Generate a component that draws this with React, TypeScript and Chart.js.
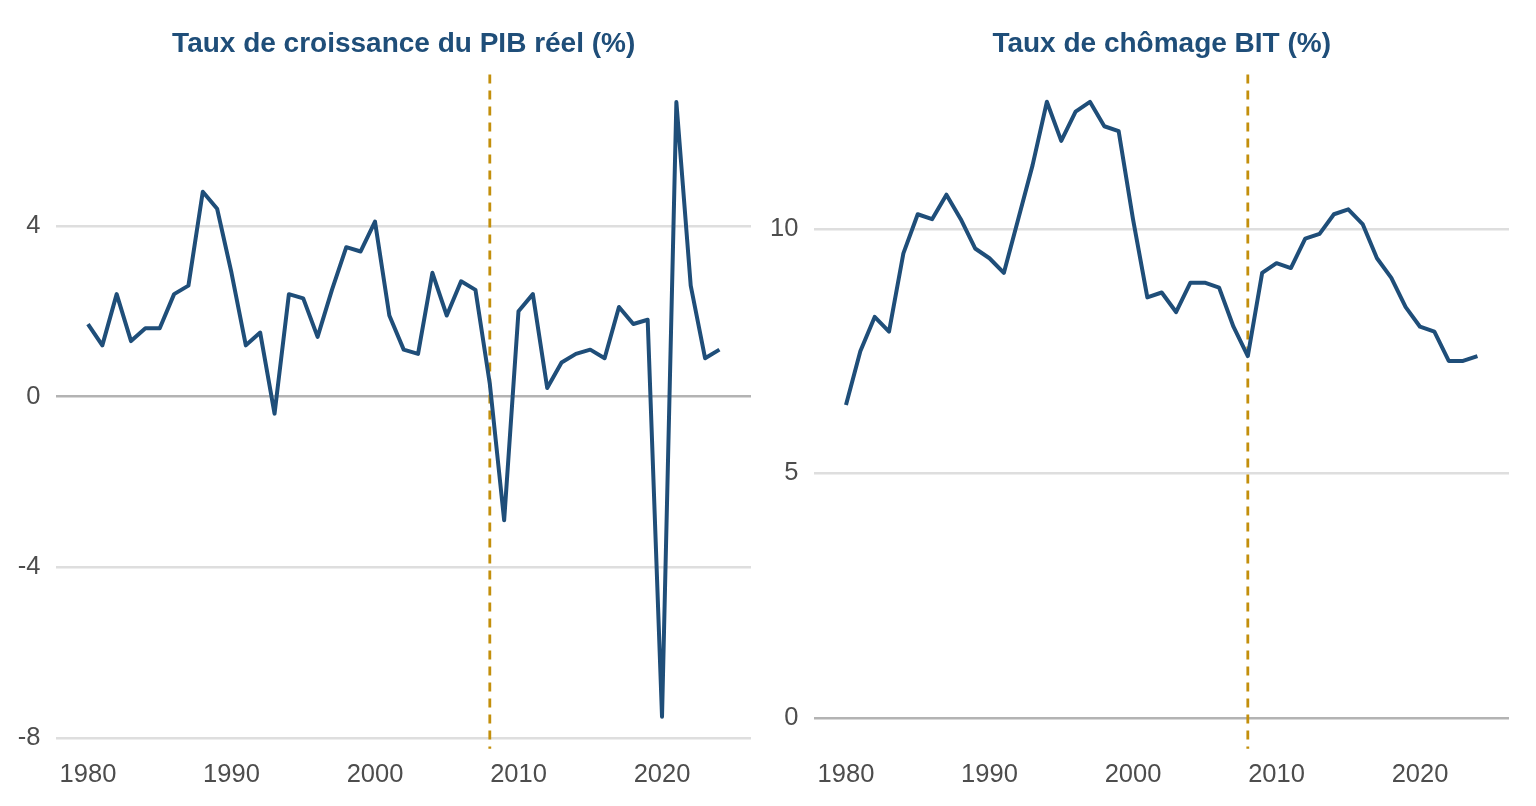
import React, { useEffect, useRef } from "react";
import { Chart, registerables } from "chart.js";

Chart.register(...registerables);

const years: number[] = Array.from({ length: 45 }, (_, i) => 1980 + i);

const gdpGrowth: number[] = [
  1.7, 1.2, 2.4, 1.3, 1.6, 1.6, 2.4, 2.6, 4.8, 4.4,
  2.9, 1.2, 1.5, -0.4, 2.4, 2.3, 1.4, 2.5, 3.5, 3.4,
  4.1, 1.9, 1.1, 1.0, 2.9, 1.9, 2.7, 2.5, 0.3, -2.9,
  2.0, 2.4, 0.2, 0.8, 1.0, 1.1, 0.9, 2.1, 1.7, 1.8,
  -7.5, 6.9, 2.6, 0.9, 1.1,
];

const unemployment: number[] = [
  6.4, 7.5, 8.2, 7.9, 9.5, 10.3, 10.2, 10.7, 10.2, 9.6,
  9.4, 9.1, 10.2, 11.3, 12.6, 11.8, 12.4, 12.6, 12.1, 12.0,
  10.2, 8.6, 8.7, 8.3, 8.9, 8.9, 8.8, 8.0, 7.4, 9.1,
  9.3, 9.2, 9.8, 9.9, 10.3, 10.4, 10.1, 9.4, 9.0, 8.4,
  8.0, 7.9, 7.3, 7.3, 7.4,
];

const xTicks: number[] = [1980, 1990, 2000, 2010, 2020];
const gdpTicks: number[] = [-8, -4, 0, 4];
const unempTicks: number[] = [0, 5, 10];
const crisisYear = 2008;

const titles = {
  gdp: "Taux de croissance du PIB réel (%)",
  unemp: "Taux de chômage BIT (%)",
};

const LINE = "#1f4e79";
const GOLD = "#c38f0c";
const FONT = "'Liberation Sans', Arial, sans-serif";

const vlinePlugin = {
  id: "vline",
  beforeDatasetsDraw(chart: any) {
    const { ctx, chartArea, scales } = chart;
    const x = scales.x.getPixelForValue(crisisYear);
    ctx.save();
    ctx.strokeStyle = GOLD;
    ctx.lineWidth = 2.8;
    ctx.setLineDash([9, 7]);
    ctx.beginPath();
    ctx.moveTo(x, chartArea.top + 4);
    ctx.lineTo(x, chartArea.bottom);
    ctx.stroke();
    ctx.restore();
  },
};

const titlePlugin = {
  id: "panelTitle",
  afterDraw(chart: any, _args: any, opts: any) {
    const { ctx, chartArea } = chart;
    ctx.save();
    ctx.fillStyle = LINE;
    ctx.font = `bold 28px ${FONT}`;
    ctx.textAlign = "center";
    ctx.textBaseline = "middle";
    ctx.fillText(opts.text, (chartArea.left + chartArea.right) / 2, 44);
    ctx.restore();
  },
};

function makeConfig(
  title: string,
  values: number[],
  yTicks: number[],
  yMin: number,
  yMax: number,
  yWidth: number,
  padRight: number
): any {
  return {
    type: "line",
    data: {
      datasets: [
        {
          data: years.map((y, i) => ({ x: y, y: values[i] })),
          borderColor: LINE,
          borderWidth: 4,
          pointRadius: 0,
          tension: 0,
          fill: false,
          borderJoinStyle: "round",
          borderCapStyle: "butt",
        },
      ],
    },
    options: {
      responsive: false,
      animation: false,
      devicePixelRatio: 1,
      layout: { padding: { left: 0, right: padRight, top: 70.5, bottom: 0 } },
      plugins: {
        legend: { display: false },
        tooltip: { enabled: false },
        title: { display: false },
        panelTitle: { text: title },
      },
      scales: {
        x: {
          type: "linear",
          min: 1977.8,
          max: 2026.2,
          border: { display: false },
          grid: { display: false, drawTicks: false },
          afterBuildTicks: (axis: any) => {
            axis.ticks = xTicks.map((v) => ({ value: v }));
          },
          afterFit: (axis: any) => {
            axis.height = 57.3;
          },
          ticks: {
            color: "#4d4d4d",
            font: { family: FONT, size: 25.5 },
            padding: 11,
            maxRotation: 0,
            autoSkip: false,
            callback: (v: any) => String(v),
          },
        },
        y: {
          type: "linear",
          min: yMin,
          max: yMax,
          border: { display: false },
          grid: {
            drawTicks: false,
            lineWidth: 2.4,
            color: (c: any) => (c.tick && c.tick.value === 0 ? "#b3b3b3" : "#dedede"),
          },
          afterBuildTicks: (axis: any) => {
            axis.ticks = yTicks.map((v) => ({ value: v }));
          },
          afterFit: (axis: any) => {
            axis.width = yWidth;
          },
          ticks: {
            color: "#4d4d4d",
            font: { family: FONT, size: 25.5 },
            padding: 16,
            autoSkip: false,
            callback: (v: any) => String(v),
          },
        },
      },
    },
    plugins: [vlinePlugin, titlePlugin],
  };
}

function ChartPanel(props: { config: any; left: number; width: number }) {
  const ref = useRef<HTMLCanvasElement | null>(null);
  useEffect(() => {
    if (!ref.current) return;
    const chart = new Chart(ref.current, props.config);
    return () => chart.destroy();
  }, []);
  return (
    <canvas
      ref={ref}
      width={props.width}
      height={806}
      style={{ position: "absolute", left: props.left, top: 0, width: props.width, height: 806, display: "block" }}
    />
  );
}

export default function App() {
  const gdpCfg = makeConfig(titles.gdp, gdpGrowth, gdpTicks, -8.25, 7.64, 56.4, 17);
  const unCfg = makeConfig(titles.unemp, unemployment, unempTicks, -0.63, 13.24, 46.4, 27);
  return (
    <div style={{ position: "fixed", left: 0, top: 0, width: 1536, height: 806, background: "#ffffff", overflow: "hidden" }}>
      <ChartPanel config={gdpCfg} left={0} width={768} />
      <ChartPanel config={unCfg} left={768} width={768} />
    </div>
  );
}
